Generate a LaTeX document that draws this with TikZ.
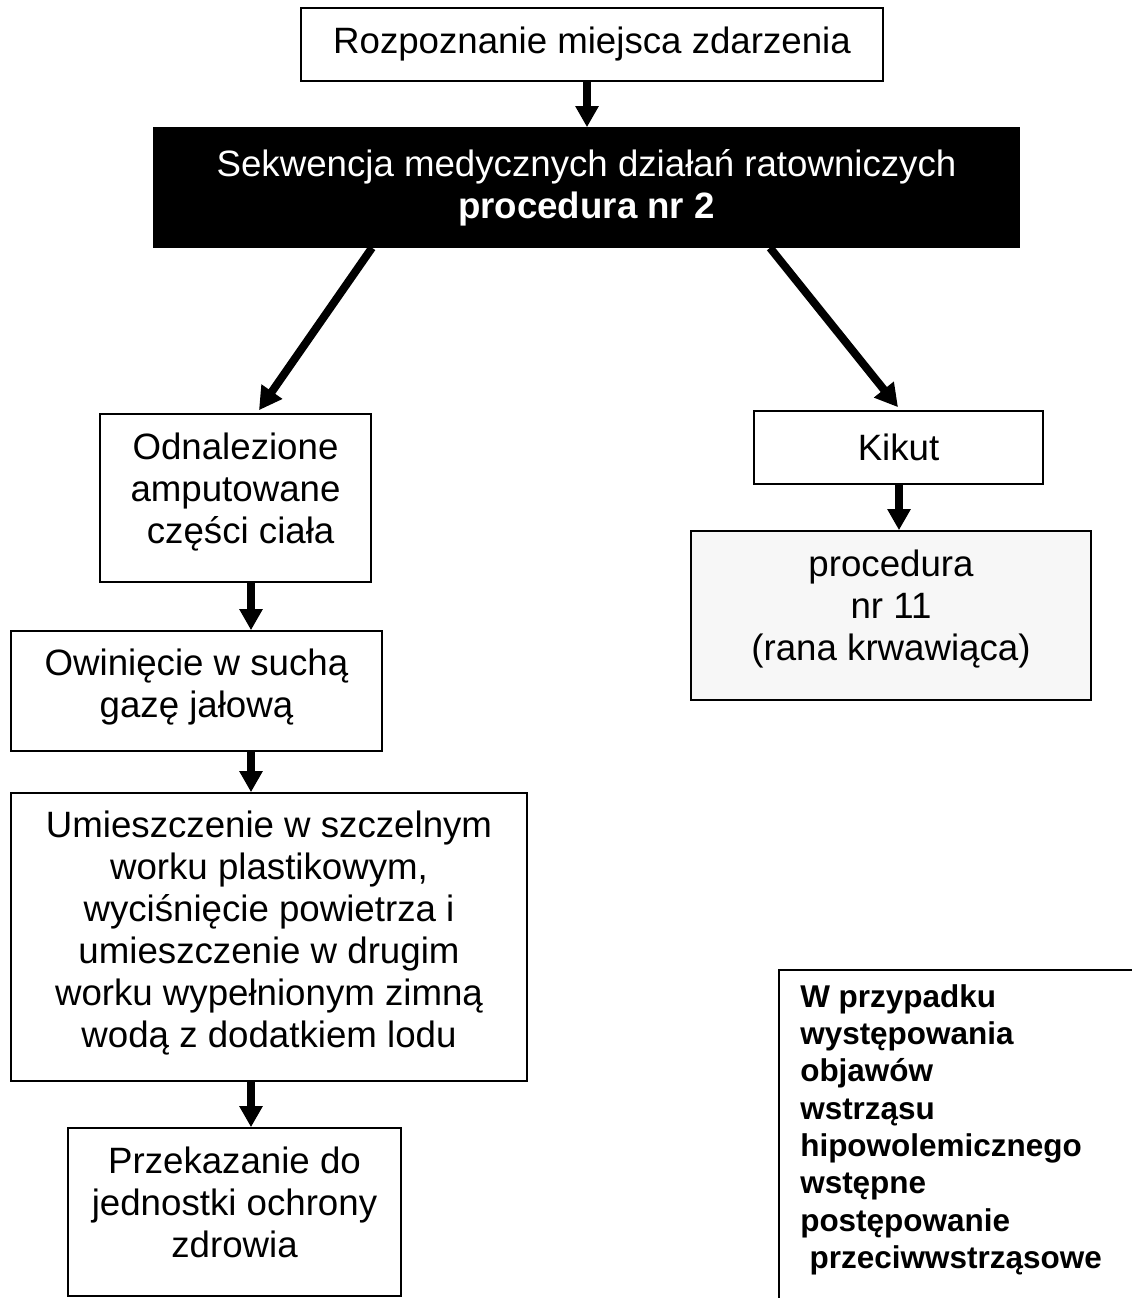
\documentclass[tikz,border=0pt]{standalone}
\usepackage{fontspec}
\setmainfont{Liberation Sans}
\usetikzlibrary{arrows.meta}
\definecolor{lightbox}{HTML}{F7F7F7}
\newcommand{\dpfix}[1]{\rule[-#1]{0pt}{0pt}}
\begin{document}
\begin{tikzpicture}[x=0.75pt,y=-0.75pt,
  box/.style={draw, line width=1.2pt, inner sep=0pt, align=center,
    font=\fontsize{27.5}{31.5}\selectfont},
  arr/.style={line width=6pt, -{Triangle[width=16.5pt,length=15.75pt]}},
  darr/.style={line width=6pt, -{Triangle[width=18pt,length=17pt]}}]
\useasboundingbox (0,0) rectangle (1131,1298);
\fill[white] (0,0) rectangle (1131,1298);

\node[box, minimum width=436.5pt, minimum height=54.75pt] (top) at (592,44.5)
  {Rozpoznanie miejsca zdarzenia};
\node[box, fill=black, text=white, minimum width=648.75pt, minimum height=89.25pt] (seq) at (586.5,187.5)
  {Sekwencja medycznych działań ratowniczych\\\textbf{procedura nr 2}};
\node[box, minimum width=203.25pt, minimum height=126pt] (odn) at (235.5,498)
  {Odnalezione\\amputowane\\\hspace*{0.28em}części ciała\dpfix{15pt}};
\node[box, minimum width=278.25pt, minimum height=90pt] (owi) at (196.5,691)
  {Owinięcie w suchą\\gazę jałową\dpfix{11.25pt}};
\node[box, minimum width=387pt, minimum height=216pt] (umi) at (269,937)
  {Umieszczenie w szczelnym\\worku plastikowym,\\wyciśnięcie powietrza i\\umieszczenie w drugim\\worku wypełnionym zimną\\wodą z dodatkiem lodu\dpfix{11.25pt}};
\node[box, minimum width=249.75pt, minimum height=126pt] (prz) at (234.5,1212)
  {Przekazanie do\\jednostki ochrony\\zdrowia\dpfix{15pt}};
\node[box, minimum width=216.75pt, minimum height=54.75pt] (kik) at (898.5,447.5)
  {Kikut};
\node[box, fill=lightbox, minimum width=300pt, minimum height=126.75pt] (p11) at (891,615.5)
  {procedura\\nr 11\\(rana krwawiąca)\dpfix{15pt}};

\draw[line width=1.2pt] (779,1300) |- (1133,970);
\node[anchor=north west, inner sep=0pt, align=left,
  font=\bfseries\fontsize{23.6}{28}\selectfont] (note) at (800,984)
  {W przypadku\\występowania\\objawów\\wstrząsu\\hipowolemicznego\\wstępne\\postępowanie\\\hspace*{0.3em}przeciwwstrząsowe};

\draw[arr] (top.south -| 587,0) -- (seq.north -| 587,0);
\draw[darr] (seq.south -| 372,0) -- ([yshift=2.25pt]odn.north -| 259,0);
\draw[darr] (seq.south -| 770,0) -- ([yshift=2.25pt]kik.north -| 898,0);
\draw[arr] (odn.south -| 251,0) -- (owi.north -| 251,0);
\draw[arr] (owi.south -| 251,0) -- (umi.north -| 251,0);
\draw[arr] (umi.south -| 251,0) -- (prz.north -| 251,0);
\draw[arr] (kik.south -| 899,0) -- (p11.north -| 899,0);
\end{tikzpicture}
\end{document}
